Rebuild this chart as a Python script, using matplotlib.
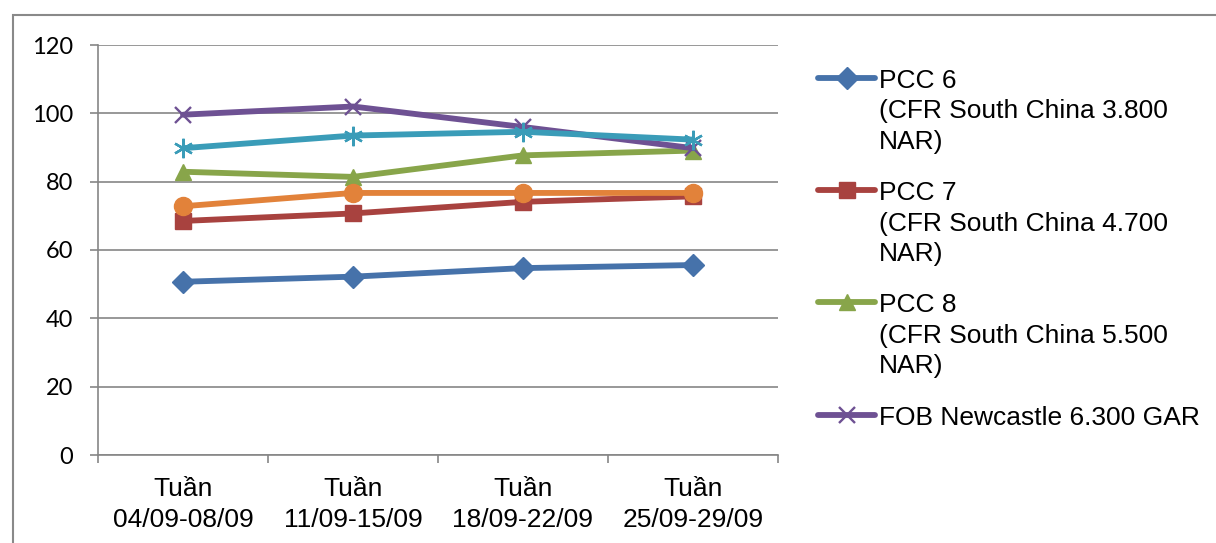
import matplotlib.pyplot as plt
from matplotlib.lines import Line2D
from matplotlib.patches import Rectangle

# data
weeks = ["Tuần\n04/09-08/09", "Tuần\n11/09-15/09", "Tuần\n18/09-22/09", "Tuần\n25/09-29/09"]
pcc6 = [50.7, 52.2, 54.7, 55.6]
pcc7 = [68.5, 70.7, 74.1, 75.7]
pcc8 = [82.9, 81.4, 87.7, 89.1]
fob_newcastle = [99.6, 102.0, 96.0, 89.8]
series5 = [89.8, 93.5, 94.6, 92.3]   # no legend entry (cut off in original)
series6 = [72.8, 76.7, 76.7, 76.7]   # no legend entry (cut off in original)

yticks = [0, 20, 40, 60, 80, 100, 120]

legend_labels = [
    "PCC 6\n(CFR South China 3.800\nNAR)",
    "PCC 7\n(CFR South China 4.700\nNAR)",
    "PCC 8\n(CFR South China 5.500\nNAR)",
    "FOB Newcastle 6.300 GAR",
]

W, H = 1216, 543
fig = plt.figure(figsize=(W / 100, H / 100), dpi=100)
ax = fig.add_axes([98 / W, 1 - 455 / H, 680 / W, 410 / H])

x = list(range(len(weeks)))
lw = 4.2
styles = [
    # values, color, marker, size, edge width
    (pcc6, "#4672AA", "D", 11, 1.0),
    (pcc7, "#A8423F", "s", 11, 1.0),
    (pcc8, "#88A54A", "^", 12, 1.0),
    (fob_newcastle, "#6E5193", "x", 12, 1.7),
    (series5, "#3A9CB8", (6, 2, 0), 14, 1.7),
    (series6, "#E2823A", "o", 13, 1.0),
]
for i, (vals, col, mk, ms, mew) in enumerate(styles):
    ax.plot(x, vals, color=col, lw=lw, marker=mk, markersize=ms,
            markerfacecolor=col, markeredgecolor=col, markeredgewidth=mew,
            solid_capstyle="round", zorder=3 + i)

grid_col = "#868686"
ax.set_ylim(0, 120)
ax.set_xlim(-0.5, len(weeks) - 0.5)
ax.set_yticks(yticks)
ax.yaxis.grid(True, color=grid_col, lw=1.2)
ax.set_axisbelow(True)
for s in ["top", "right"]:
    ax.spines[s].set_visible(False)
for s in ["left", "bottom"]:
    ax.spines[s].set_color(grid_col)
    ax.spines[s].set_linewidth(1.2)

ax.tick_params(axis="y", direction="out", length=6, width=1.2, color=grid_col, pad=12)
for lab in ax.get_yticklabels():
    lab.set_fontfamily("Lato")
    lab.set_fontsize(17)

# category labels at centres, tick marks at boundaries
ax.set_xticks(x)
ax.set_xticklabels(weeks, fontfamily="Liberation Sans", fontsize=19, linespacing=1.35)
ax.tick_params(axis="x", length=0, pad=16)
ax.set_xticks([i - 0.5 for i in range(len(weeks) + 1)], minor=True)
ax.tick_params(axis="x", which="minor", direction="out", length=6, width=1.2, color=grid_col)

# manual legend: handle aligned with first text line
first_baselines = [88, 200, 312, 425]
line_gap = 30.5
for k, lab in enumerate(legend_labels):
    vals, col, mk, ms, mew = styles[k]
    yb = first_baselines[k]
    yc = 1 - (yb - 10) / H
    fig.add_artist(Line2D([818 / W, 846.5 / W, 875 / W], [yc, yc, yc], color=col, lw=lw,
                          marker=mk, markersize=ms, markevery=[1], markerfacecolor=col,
                          markeredgecolor=col, markeredgewidth=mew, solid_capstyle="round"))
    for j, part in enumerate(lab.split("\n")):
        fig.text(879 / W, 1 - (yb + j * line_gap) / H, part, fontfamily="Liberation Sans",
                 fontsize=19, va="baseline", ha="left")

# outer chart border (only left and top visible in the crop)
fig.add_artist(Rectangle((13 / W, -0.2), 1.2, 1.2 - 15 / H, transform=fig.transFigure,
                         fill=False, edgecolor="#898989", lw=1.5))

fig.savefig("out.png", dpi=100)
